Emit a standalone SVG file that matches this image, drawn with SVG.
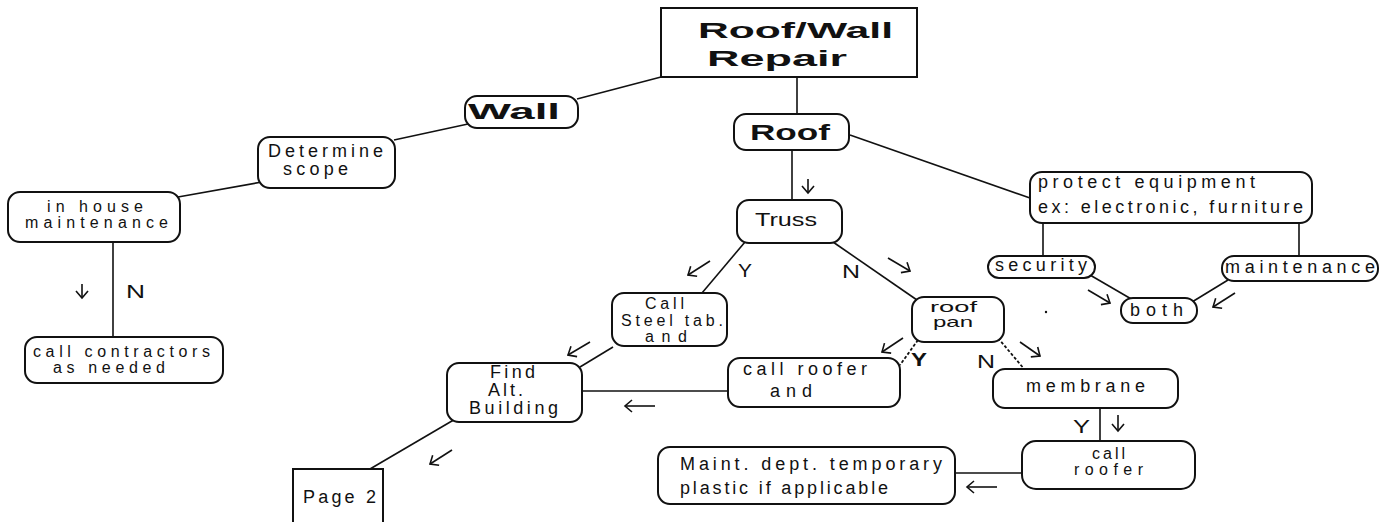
<svg xmlns="http://www.w3.org/2000/svg" width="1383" height="522" viewBox="0 0 1383 522">
<style>
.box{fill:#fff;stroke:#111;stroke-width:2}
.ln{stroke:#111;stroke-width:1.6;fill:none}
.dl{stroke:#111;stroke-width:1.8;fill:none;stroke-dasharray:3 2}
.ar{stroke:#111;stroke-width:1.6;fill:none;marker-end:url(#ah)}
.t{font-family:"Liberation Sans",Arial,sans-serif;font-size:18px;fill:#111}
.s{font-size:16px}
.b{font-family:"Liberation Sans",Arial,sans-serif;font-size:22px;font-weight:bold;fill:#111}
.l{font-family:"Liberation Sans",Arial,sans-serif;font-size:18px;fill:#111}
</style>
<defs>
<marker id="ah" viewBox="0 0 10 14" markerWidth="10" markerHeight="14" refX="8" refY="7" orient="auto" markerUnits="userSpaceOnUse">
<path d="M1,1 L8,7 L1,13" fill="none" stroke="#111" stroke-width="1.6"/>
</marker>
</defs>
<rect width="1383" height="522" fill="#fff"/>
<g id="connectors">
<line class="ln" x1="661" y1="77" x2="577" y2="99"/>
<line class="ln" x1="797" y1="77" x2="797" y2="114"/>
<line class="ln" x1="468" y1="124" x2="394" y2="140"/>
<line class="ln" x1="262" y1="182" x2="178" y2="197"/>
<line class="ln" x1="113" y1="242" x2="113" y2="337"/>
<line class="ln" x1="792" y1="150" x2="792" y2="200"/>
<line class="ln" x1="850" y1="135" x2="1030" y2="198"/>
<line class="ln" x1="745" y1="242" x2="702" y2="293"/>
<line class="ln" x1="833" y1="242" x2="917" y2="300"/>
<line class="ln" x1="613" y1="347" x2="580" y2="367"/>
<line class="ln" x1="582" y1="391" x2="728" y2="391"/>
<line class="ln" x1="457" y1="418" x2="370" y2="469"/>
<line class="dl" x1="918" y1="340" x2="900" y2="365"/>
<line class="dl" x1="998" y1="338" x2="1025" y2="370"/>
<line class="ln" x1="1100" y1="408" x2="1100" y2="441"/>
<line class="ln" x1="1022" y1="473" x2="955" y2="473"/>
<line class="ln" x1="1043" y1="223" x2="1043" y2="256"/>
<line class="ln" x1="1299" y1="223" x2="1299" y2="256"/>
<line class="ln" x1="1090" y1="275" x2="1133" y2="300"/>
<line class="ln" x1="1228" y1="280" x2="1192" y2="302"/>
<path class="ar" d="M808,179 L808,193"/>
<path class="ar" d="M710,261 L688,275"/>
<path class="ar" d="M888,258 L910,271"/>
<path class="ar" d="M590,342 L568,355"/>
<path class="ar" d="M655,406 L625,406"/>
<path class="ar" d="M903,338 L882,352"/>
<path class="ar" d="M1020,342 L1040,356"/>
<path class="ar" d="M1118,415 L1118,431"/>
<path class="ar" d="M997,487 L967,487"/>
<path class="ar" d="M1088,290 L1110,303"/>
<path class="ar" d="M1235,293 L1213,307"/>
<path class="ar" d="M82,284 L82,298"/>
<path class="ar" d="M452,450 L430,464"/>
<text class="l" x="738" y="277" textLength="14" lengthAdjust="spacingAndGlyphs">Y</text>
<text class="l" x="842" y="278" textLength="18" lengthAdjust="spacingAndGlyphs">N</text>
<text class="l" x="911" y="366" textLength="16" lengthAdjust="spacingAndGlyphs" font-weight="bold">Y</text>
<text class="l" x="977" y="368" textLength="18" lengthAdjust="spacingAndGlyphs">N</text>
<text class="l" x="1073" y="433" textLength="17" lengthAdjust="spacingAndGlyphs">Y</text>
<text class="l" x="126" y="298" textLength="19" lengthAdjust="spacingAndGlyphs">N</text>
<circle cx="1046" cy="312" r="1.2" fill="#111"/>
</g>
<g id="title">
<rect class="box" x="661" y="8" width="256" height="69"/>
<text class="b" x="698" y="38" textLength="195" lengthAdjust="spacingAndGlyphs">Roof/Wall</text>
<text class="b" x="707" y="66" textLength="140" lengthAdjust="spacingAndGlyphs">Repair</text>
</g>
<g id="wall">
<rect class="box" x="465" y="96" width="113" height="32" rx="12"/>
<text class="b" x="468" y="119" textLength="92" lengthAdjust="spacingAndGlyphs">Wall</text>
</g>
<g id="roof">
<rect class="box" x="734" y="114" width="115" height="36" rx="12"/>
<text class="b" x="750" y="140" textLength="80" lengthAdjust="spacingAndGlyphs">Roof</text>
</g>
<g id="truss">
<rect class="box" x="737" y="200" width="105" height="43" rx="12"/>
<text class="l" x="755" y="226" textLength="62" lengthAdjust="spacingAndGlyphs">Truss</text>
</g>
<g id="determine">
<rect class="box" x="258" y="137" width="137" height="51" rx="12"/>
<text class="t" x="268" y="157" textLength="115" lengthAdjust="spacing">Determine</text>
<text class="t" x="283" y="175" textLength="65" lengthAdjust="spacing">scope</text>
</g>
<g id="inhouse">
<rect class="box" x="8" y="192" width="172" height="50" rx="12"/>
<text class="t s" x="47" y="212" textLength="96" lengthAdjust="spacing">in house</text>
<text class="t s" x="25" y="228" textLength="143" lengthAdjust="spacing">maintenance</text>
</g>
<g id="contractors">
<rect class="box" x="25" y="337" width="198" height="46" rx="12"/>
<text class="t s" x="33" y="357" textLength="177" lengthAdjust="spacing">call contractors</text>
<text class="t s" x="53" y="373" textLength="112" lengthAdjust="spacing">as needed</text>
</g>
<g id="page2">
<path class="box" d="M293,524 V469 H383 V524"/>
<text class="t" x="303" y="503" textLength="73" lengthAdjust="spacing">Page 2</text>
</g>
<g id="callsteel">
<rect class="box" x="612" y="293" width="115" height="53" rx="12"/>
<text class="t s" x="645" y="309" textLength="39" lengthAdjust="spacing">Call</text>
<text class="t s" x="621" y="326" textLength="102" lengthAdjust="spacing">Steel tab.</text>
<text class="t s" x="645" y="342" textLength="42" lengthAdjust="spacing">and</text>
</g>
<g id="find">
<rect class="box" x="447" y="363" width="135" height="59" rx="12"/>
<text class="t" x="490" y="378" textLength="45" lengthAdjust="spacing">Find</text>
<text class="t" x="488" y="396" textLength="35" lengthAdjust="spacing">Alt.</text>
<text class="t" x="469" y="414" textLength="89" lengthAdjust="spacing">Building</text>
</g>
<g id="callroofer-and">
<rect class="box" x="728" y="358" width="172" height="49" rx="12"/>
<text class="t" x="743" y="375" textLength="124" lengthAdjust="spacing">call  roofer</text>
<text class="t" x="770" y="397" textLength="42" lengthAdjust="spacing">and</text>
</g>
<g id="roofpan">
<rect class="box" x="912" y="297" width="92" height="45" rx="12"/>
<text class="t" style="font-size:15px" x="930" y="312" textLength="47" lengthAdjust="spacingAndGlyphs">roof</text>
<text class="t" style="font-size:15px" x="933" y="327" textLength="40" lengthAdjust="spacingAndGlyphs">pan</text>
</g>
<g id="membrane">
<rect class="box" x="993" y="369" width="185" height="39" rx="12"/>
<text class="t" x="1026" y="392" textLength="119" lengthAdjust="spacing">membrane</text>
</g>
<g id="callroofer">
<rect class="box" x="1022" y="441" width="173" height="48" rx="14"/>
<text class="t s" x="1092" y="459" textLength="33" lengthAdjust="spacing">call</text>
<text class="t s" x="1074" y="475" textLength="69" lengthAdjust="spacing">roofer</text>
</g>
<g id="maint">
<rect class="box" x="658" y="447" width="297" height="57" rx="12"/>
<text class="t" x="680" y="470" textLength="262" lengthAdjust="spacing">Maint. dept. temporary</text>
<text class="t" x="680" y="494" textLength="208" lengthAdjust="spacing">plastic if applicable</text>
</g>
<g id="protect">
<rect class="box" x="1030" y="172" width="282" height="51" rx="12"/>
<text class="t" x="1038" y="188" textLength="217" lengthAdjust="spacing">protect equipment</text>
<text class="t" x="1038" y="213" textLength="265" lengthAdjust="spacing">ex: electronic, furniture</text>
</g>
<g id="security">
<rect class="box" x="988" y="256" width="107" height="22" rx="11"/>
<text class="t" x="995" y="271" textLength="92" lengthAdjust="spacing">security</text>
</g>
<g id="maintenance">
<rect class="box" x="1222" y="256" width="156" height="25" rx="12"/>
<text class="t" x="1225" y="273" textLength="150" lengthAdjust="spacing">maintenance</text>
</g>
<g id="both">
<rect class="box" x="1121" y="298" width="76" height="25" rx="12"/>
<text class="t" x="1130" y="316" textLength="53" lengthAdjust="spacing">both</text>
</g>
</svg>
